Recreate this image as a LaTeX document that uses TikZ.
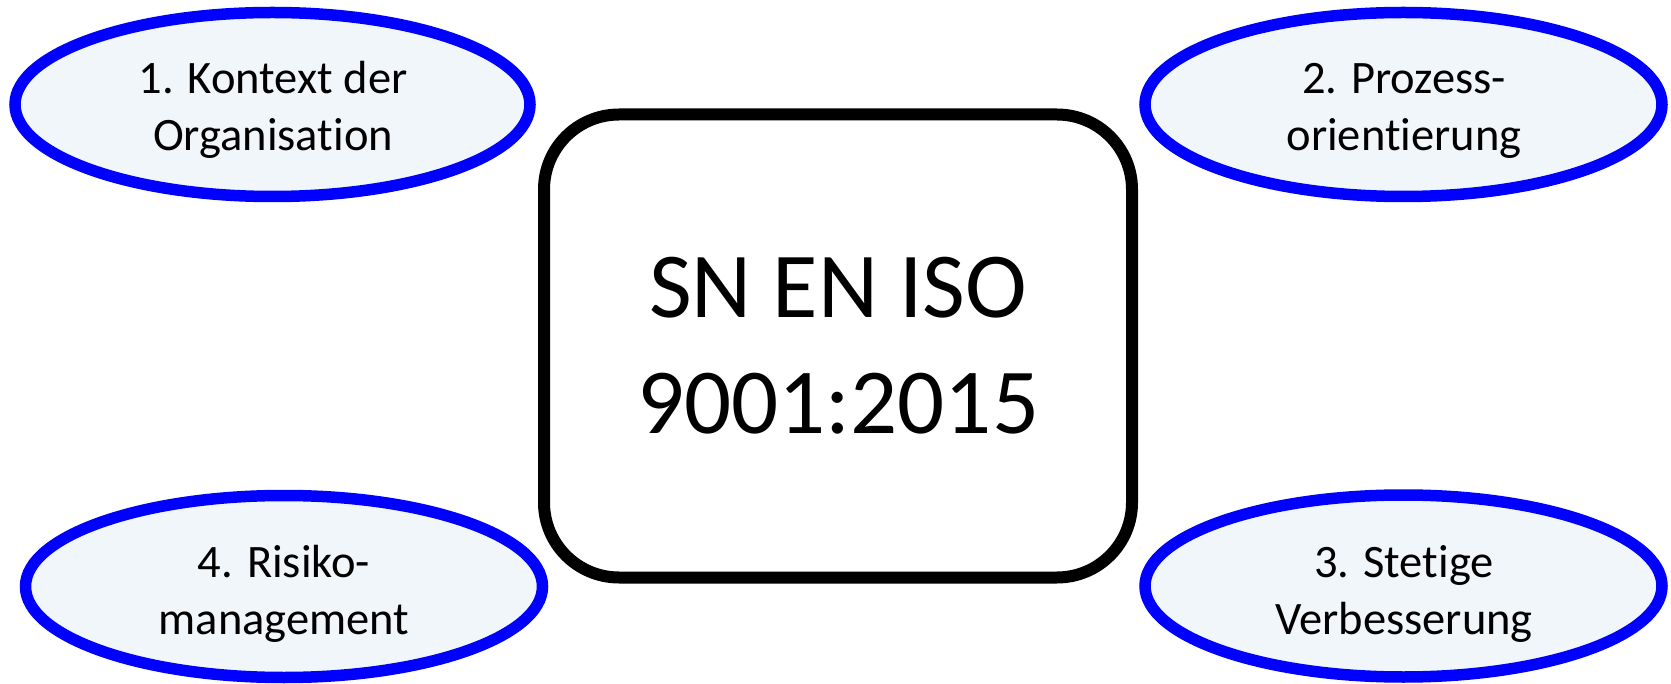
\documentclass[tikz,border=0pt]{standalone}
\usepackage{fontspec}
\setmainfont{Carlito}[Ligatures={NoCommon,NoRequired,NoContextual,NoRare},Contextuals={NoAlternate}]
\usetikzlibrary{shapes.geometric}
\definecolor{elfill}{RGB}{241,246,251}
\definecolor{elline}{RGB}{0,0,255}
\newcommand{\nolig}{\kern0pt{}}
\tikzset{
  oval/.style={ellipse, draw=elline, fill=elfill, line width=11.5pt, inner sep=0pt},
  ovaltext/.style={align=center, inner sep=0pt, font=\fontsize{46.5}{57}\selectfont},
  mainbox/.style={rectangle, draw=black, fill=white, line width=12pt, rounded corners=75pt,
    minimum width=588pt, minimum height=463pt, inner sep=0pt, align=center,
    font=\fontsize{93}{116}\selectfont}
}
\begin{document}
\begin{tikzpicture}[x=1pt,y=-1pt]
\useasboundingbox (0,0) rectangle (1671,684);
\node[oval, minimum width=515pt, minimum height=184pt] (e1) at (272.5,104.5) {};
\node[oval, minimum width=517pt, minimum height=184pt] (e2) at (1403.5,104.5) {};
\node[oval, minimum width=517pt, minimum height=182pt] (e4) at (284,586.5) {};
\node[oval, minimum width=517pt, minimum height=182pt] (e3) at (1403.5,586) {};
\node[ovaltext] (t1) at (273,110) {1. Kontext der\\Organisat\nolig ion};
\node[ovaltext] (t2) at (1404,110.5) {2. Prozess-\\orient\nolig ierung};
\node[ovaltext] (t4) at (284,594) {4. Risiko-\\management};
\node[ovaltext] (t3) at (1404,594) {3. Stet\nolig ige\\Verbesserung};
\node[mainbox] (c) at (838,346) {SN EN ISO\\9001:2015};
\end{tikzpicture}
\end{document}
